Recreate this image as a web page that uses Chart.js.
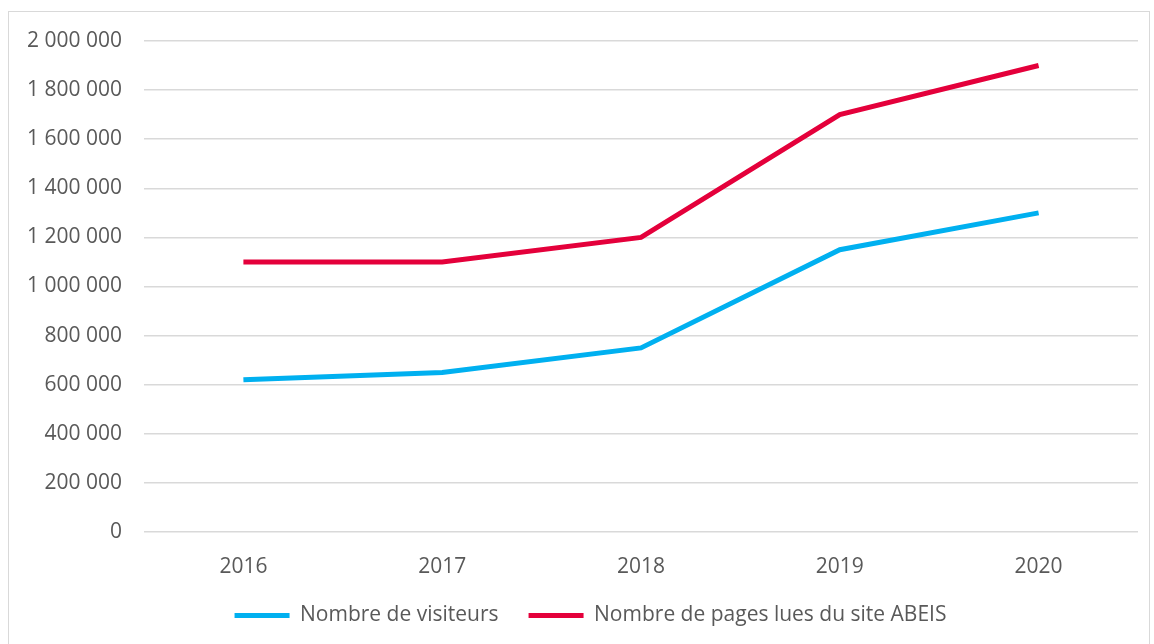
<!DOCTYPE html>
<html>
<head>
<meta charset="utf-8">
<script src="https://cdn.jsdelivr.net/npm/chart.js@4"></script>
<style>
    html, body { margin: 0; padding: 0; background: #fff; }
    #wrap {
        position: absolute;
        left: 8px;
        top: 11px;
        width: 1142px;
        height: 640px;
        border: 1px solid #d9d9d9;
        box-sizing: border-box;
    }
</style>
</head>
<body>
<div id="wrap"><canvas id="chart"></canvas></div>
<script>
// Data
const years = ['2016', '2017', '2018', '2019', '2020'];
const visiteurs = [620000, 650000, 750000, 1150000, 1300000];
const pagesLues = [1100000, 1100000, 1200000, 1700000, 1900000];
const seriesNames = ['Nombre de visiteurs', 'Nombre de pages lues du site ABEIS'];

const textColor = '#595959';
const gridColor = '#d9d9d9';
const fontFamily = "'Open Sans', 'Liberation Sans', sans-serif";

// French style thousands separator: "1 200 000"
function formatNumber(v) {
    return String(v).replace(/\B(?=(\d{3})+(?!\d))/g, ' ');
}

// Nudge the legend after layout so it sits like the original, and let the
// x labels draw past the (shortened) axis box without being clipped
const legendNudge = {
    id: 'legendNudge',
    afterLayout(chart) {
        const legend = chart.legend;
        legend.top += 13;
        legend.bottom += 13;
        legend.left += 17;
        legend.right += 17;
        chart.scales.x.bottom += 30;
    }
};

const ctx = document.getElementById('chart').getContext('2d');
new Chart(ctx, {
    type: 'line',
    data: {
        labels: years,
        datasets: [
            {
                label: seriesNames[0],
                data: visiteurs,
                borderColor: '#00b0f0',
                backgroundColor: '#00b0f0',
                borderWidth: 5,
                pointRadius: 0,
                pointStyle: 'line',
                tension: 0
            },
            {
                label: seriesNames[1],
                data: pagesLues,
                borderColor: '#e4003b',
                backgroundColor: '#e4003b',
                borderWidth: 5,
                pointRadius: 0,
                pointStyle: 'line',
                tension: 0
            }
        ]
    },
    options: {
        responsive: true,
        maintainAspectRatio: false,
        animation: false,
        layout: {
            padding: { top: 29, right: 11, left: 0, bottom: 27 }
        },
        plugins: {
            legend: {
                position: 'bottom',
                labels: {
                    color: textColor,
                    font: { family: fontFamily, size: 21 },
                    usePointStyle: true,
                    pointStyleWidth: 55,
                    padding: 30
                }
            },
            tooltip: { enabled: false }
        },
        scales: {
            x: {
                offset: true,
                afterFit: function(axis) { axis.height = 30; },
                grid: { display: false },
                border: { display: false },
                ticks: {
                    color: textColor,
                    font: { family: fontFamily, size: 21 },
                    padding: 14
                }
            },
            y: {
                min: 0,
                max: 2000000,
                afterFit: function(axis) { axis.width = 135; },
                // invisible tick marks make the gap between labels and plot
                grid: {
                    color: gridColor,
                    lineWidth: 1.5,
                    drawTicks: true,
                    tickLength: 22,
                    tickColor: 'rgba(0,0,0,0)'
                },
                border: { display: false },
                ticks: {
                    stepSize: 200000,
                    color: textColor,
                    font: { family: fontFamily, size: 21 },
                    padding: 0,
                    callback: function(value) { return formatNumber(value); }
                }
            }
        }
    },
    plugins: [legendNudge]
});
</script>
</body>
</html>
